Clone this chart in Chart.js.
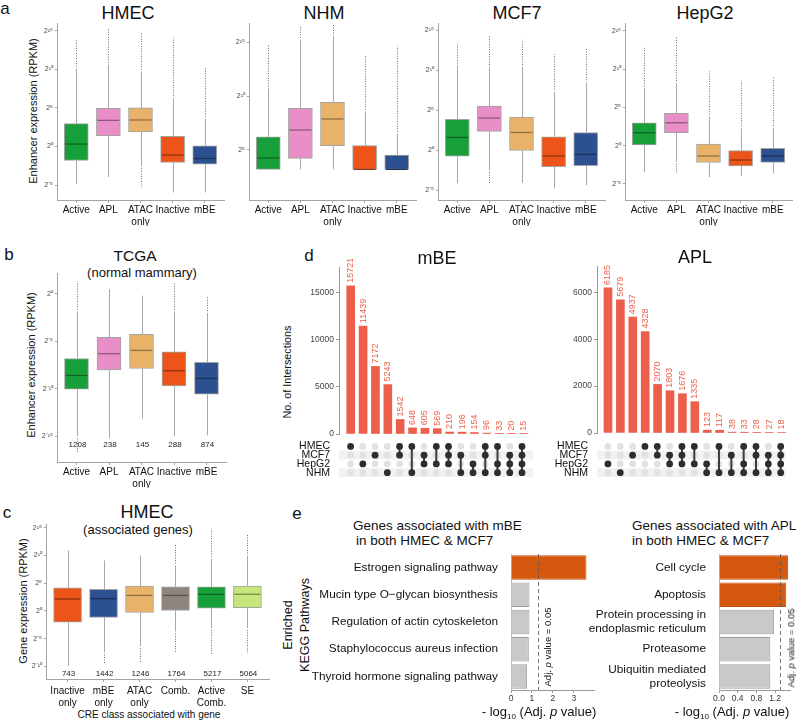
<!DOCTYPE html>
<html>
<head>
<meta charset="utf-8">
<script src="https://cdn.jsdelivr.net/npm/chart.js@4.4.1/dist/chart.umd.min.js"></script>
<style>
  body { margin: 0; background: #fff; }
  #fig { position: relative; width: 796px; height: 721px; overflow: hidden;
         font-family: 'Liberation Sans', Arial, Helvetica, sans-serif; color: #111; }
  #fig canvas { position: absolute; }
  .t { position: absolute; white-space: nowrap; line-height: 1; transform: translate(-50%, -50%); }
  .t sub { font-size: 8px; vertical-align: -3px; line-height: 0; }
</style>
</head>
<body>
<div id="fig"></div>
<script>
/* ── data ─────────────────────────────────────────────── */
const enhCats = ['Active', 'APL', ['ATAC', 'only'], 'Inactive', 'mBE'];
const enhTicks = [-5, 0, 5, 10, 15];
const nhmTicks = [5, 10, 15];

// log2 RPKM: [lower whisker, Q1, median, Q3, upper whisker]; outliers: [min, max]
const hmecStats = [[-4.84, -1.82, 0.31, 2.95, 10.1], [-3.97, 1.39, 3.38, 4.94, 10.6], [-2.6, 1.87, 3.43, 4.99, 9.7], [-5.97, -2.08, -1.12, 1.3, 6.3], [-5.97, -2.29, -1.56, 0.09, 3.6]];
const hmecOut = [[null, 13.9], [null, 15.2], [-5.2, 14.8], [null, 14.1], [null, 10.2]];
const nhmStats = [[3.21, 3.21, 4.26, 6.23, 10.7], [3.21, 4.23, 6.85, 8.86, 15.2], [3.21, 5.4, 7.87, 9.41, 15.6], [3.21, 3.21, 3.21, 5.4, 8.55], [3.21, 3.21, 3.21, 4.54, 6.5]];
const nhmOut = [[null, 14.7], [null, 16.5], [null, 16.7], [null, 13.8], [null, 14.6]];
const mcf7Stats = [[-4.17, -0.75, 1.58, 3.83, 10.6], [-2.5, 2.33, 4.0, 5.5, 10.4], [-4.1, -0.04, 2.2, 4.13, 10.4], [-4.8, -2.08, -0.75, 1.67, 7.3], [-4.4, -1.96, -0.54, 2.2, 8.5]];
const mcf7Out = [[null, 13.4], [-4.25, 14.4], [null, 13.8], [null, 12.0], [null, 12.8]];
const hepg2Stats = [[-3.5, 0.09, 1.7, 3.0, 7.5], [-2.1, 1.7, 3.0, 4.24, 8.2], [-4.1, -2.2, -1.35, 0.22, 3.8], [-3.96, -2.65, -1.87, -0.65, 2.27], [-3.6, -2.2, -1.35, -0.34, 2.3]];
const hepg2Out = [[null, 12.9], [-3.6, 14.3], [null, 9.7], [null, 8.5], [null, 9.1]];

const tcgaTicks = [-15, -10, -5, 0];
const tcgaStats = [[-15.0, -10.03, -8.59, -6.8, -1.87], [-15.2, -8.0, -6.3, -4.57, 0.5], [-13.1, -7.85, -5.95, -4.26, -0.18], [-15.0, -9.7, -8.1, -6.1, -1.87], [-14.9, -10.56, -8.9, -7.2, -2.0]];
const tcgaOut = [[-16.8, 1.27], [null, null], [-13.3, null], [null, 1.2], [null, -0.3]];
const tcgaN = [1208, 238, 145, 288, 874];

const geneCats = [['Inactive', 'only'], ['mBE', 'only'], ['ATAC', 'only'], 'Comb.', ['Active', 'Comb.'], 'SE'];
const geneTicks = [-10, -5, 0, 5, 10, 15];
const geneStats = [[-9.9, -2.02, 2.14, 4.18, 10.9], [-7.5, -1.18, 2.2, 3.88, 9.1], [-6.4, -0.29, 2.8, 4.46, 10.0], [-3.7, 0.07, 2.8, 4.35, 8.2], [-3.1, 0.48, 2.98, 4.35, 9.4], [-3.1, 0.6, 3.0, 4.5, 10.0]];
const geneOut = [[null, null], [-9.4, null], [-9.4, null], [-7.6, 11.9], [-7.9, 14.8], [-7.6, 13.9]];
const geneN = [743, 1442, 1246, 1764, 5217, 5064];

const cellLines = ['HMEC', 'MCF7', 'HepG2', 'NHM'];
const mbeCounts = [15721, 11439, 7172, 5243, 1542, 648, 605, 569, 210, 196, 154, 96, 33, 20, 15];
const mbeSets = [['HMEC'], ['HepG2'], ['MCF7'], ['NHM'], ['HMEC', 'MCF7'], ['HMEC', 'NHM'], ['MCF7', 'HepG2'], ['HMEC', 'HepG2'],
  ['HMEC', 'MCF7', 'HepG2'], ['MCF7', 'NHM'], ['HepG2', 'NHM'], ['HMEC', 'MCF7', 'NHM'], ['HMEC', 'HepG2', 'NHM'], ['MCF7', 'HepG2', 'NHM'], ['HMEC', 'MCF7', 'HepG2', 'NHM']];
const mbeTicks = [0, 5000, 10000, 15000];
const aplCounts = [6185, 5679, 4937, 4328, 2070, 1803, 1676, 1335, 123, 117, 38, 33, 28, 27, 18];
const aplSets = [['HepG2'], ['NHM'], ['MCF7'], ['HMEC'], ['HMEC', 'MCF7'], ['MCF7', 'HepG2'], ['HMEC', 'MCF7', 'HepG2'], ['HMEC', 'HepG2'],
  ['HepG2', 'NHM'], ['HMEC', 'NHM'], ['MCF7', 'NHM'], ['HMEC', 'HepG2', 'NHM'], ['HMEC', 'MCF7', 'NHM'], ['MCF7', 'HepG2', 'NHM'], ['HMEC', 'MCF7', 'HepG2', 'NHM']];
const aplTicks = [0, 2000, 4000, 6000];

const keggMbeLabels = ['Estrogen signaling pathway', 'Mucin type O\u2212glycan biosynthesis', 'Regulation of actin cytoskeleton', 'Staphylococcus aureus infection', 'Thyroid hormone signaling pathway'];
const keggMbeVals = [3.6, 0.88, 0.88, 0.85, 0.77];
const keggMbeTicks = [0, 1, 2, 3];
const keggAplLabels = ['Cell cycle', 'Apoptosis', ['Protein processing in', 'endoplasmic reticulum'], 'Proteasome', ['Ubiquitin mediated', 'proteolysis']];
const keggAplVals = [1.48, 1.44, 1.18, 1.10, 1.10];
const keggAplTicks = [0, 0.4, 0.8, 1.2];
const pCutoff = 1.301; // -log10(0.05)

/* ── styles ───────────────────────────────────────────── */
const enhColors = ['#17a03a', '#e98ec6', '#e8b369', '#ec5419', '#2d5190'];
const geneColors = ['#ec5419', '#2d5190', '#e8b369', '#8f857f', '#17a03a', '#c6e57b'];
const upsetRed = '#ec5f4b';

Chart.defaults.font.family = "'Liberation Sans', Arial, Helvetica, sans-serif";

const fig = document.getElementById('fig');

function txt(html, x, y, size, opt = {}) {
  const d = document.createElement('div');
  d.className = 't';
  d.innerHTML = html;
  d.style.left = x + 'px';
  d.style.top = y + 'px';
  d.style.fontSize = size + 'px';
  if (opt.rot) d.style.transform = 'translate(-50%,-50%) rotate(' + opt.rot + 'deg)';
  if (opt.left) d.style.transform = 'translate(0,-50%)';
  fig.appendChild(d);
}

// box = chart area (l,t,r,b) + room around it (pl,pr,pt,pb)
function canvasAt(box) {
  const c = document.createElement('canvas');
  const w = Math.round(box.r - box.l + box.pl + box.pr);
  const h = Math.round(box.b - box.t + box.pt + box.pb);
  c.width = w; c.height = h;
  c.style.width = w + 'px'; c.style.height = h + 'px';
  c.style.left = (box.l - box.pl) + 'px';
  c.style.top = (box.t - box.pt) + 'px';
  fig.appendChild(c);
  return c;
}
const fixW = w => s => { s.width = w; s.paddingTop = s.paddingBottom = s.paddingLeft = s.paddingRight = 0; };
const fixH = h => s => { s.height = h; s.paddingTop = s.paddingBottom = s.paddingLeft = s.paddingRight = 0; };
const setTicks = vals => s => { s.ticks = vals.map(v => ({ value: v })); };

const SUP = { '-': '\u207B', '0': '\u2070', '1': '\u00B9', '2': '\u00B2', '3': '\u00B3', '4': '\u2074', '5': '\u2075', '6': '\u2076', '7': '\u2077', '8': '\u2078', '9': '\u2079' };
const pow2 = v => '2' + String(v).split('').map(c => SUP[c]).join('');

function shade(hex, f) {
  const n = parseInt(hex.slice(1), 16);
  const r = Math.round(((n >> 16) & 255) * f), g = Math.round(((n >> 8) & 255) * f), b = Math.round((n & 255) * f);
  return 'rgb(' + r + ',' + g + ',' + b + ')';
}
function seg(ctx, x1, y1, x2, y2) { ctx.beginPath(); ctx.moveTo(x1, y1); ctx.lineTo(x2, y2); ctx.stroke(); }

/* ── box plot pieces (whiskers, outliers, medians, n) ── */
const boxWhisk = {
  id: 'boxWhisk',
  beforeDatasetsDraw(chart, args, o) {
    const { ctx, scales: { x, y } } = chart;
    ctx.save();
    ctx.lineWidth = 1;
    o.stats.forEach((s, i) => {
      const px = Math.round(x.getPixelForValue(i + 1)) + 0.5;
      ctx.strokeStyle = '#a8a8a8';
      ctx.setLineDash([]);
      seg(ctx, px, y.getPixelForValue(s[0]), px, y.getPixelForValue(s[1]));
      seg(ctx, px, y.getPixelForValue(s[3]), px, y.getPixelForValue(s[4]));
      const [lo, hi] = o.outs[i];
      ctx.strokeStyle = '#6a6a6a';
      ctx.setLineDash([1, 1.5]);
      if (hi != null) seg(ctx, px, y.getPixelForValue(s[4]) - 2, px, y.getPixelForValue(hi));
      if (lo != null) seg(ctx, px, y.getPixelForValue(s[0]) + 2, px, y.getPixelForValue(lo));
    });
    ctx.restore();
  },
  afterDatasetsDraw(chart, args, o) {
    const { ctx, chartArea, scales: { y } } = chart;
    const meta = chart.getDatasetMeta(0);
    ctx.save();
    ctx.lineWidth = 1.3;
    o.stats.forEach((s, i) => {
      const bar = meta.data[i];
      const py = y.getPixelForValue(s[2]);
      ctx.strokeStyle = shade(o.colors[i], 0.62);
      seg(ctx, bar.x - bar.width / 2 + 1, py, bar.x + bar.width / 2 - 1, py);
    });
    if (o.counts) {
      ctx.fillStyle = '#222';
      ctx.font = '8px ' + Chart.defaults.font.family;
      ctx.textAlign = 'center';
      ctx.textBaseline = 'middle';
      o.counts.forEach((n, i) => ctx.fillText(String(n), meta.data[i].x + 1, chartArea.bottom - o.countY));
    }
    ctx.restore();
  }
};

function boxPlot(box, cats, stats, outs, colors, yMin, yMax, yTicks, extra = {}) {
  return new Chart(canvasAt(box), {
    type: 'bar',
    data: {
      datasets: [{
        data: stats.map((s, i) => ({ x: i + 1, y: [s[1], s[3]] })),
        backgroundColor: colors,
        borderColor: '#a3a3a3',
        borderWidth: 1,
        borderSkipped: false,
        barThickness: extra.bw || 24
      }]
    },
    options: {
      responsive: false, animation: false, devicePixelRatio: 1,
      layout: { padding: { top: box.pt, right: box.pr, left: 0, bottom: 0 } },
      plugins: {
        legend: { display: false }, tooltip: { enabled: false },
        boxWhisk: { stats, outs, colors, counts: extra.counts, countY: extra.countY }
      },
      scales: {
        x: {
          type: 'linear', bounds: 'data', offset: false, min: 0.4, max: cats.length + 0.6,
          afterFit: fixH(box.pb), afterBuildTicks: setTicks(cats.map((_, i) => i + 1)),
          ticks: { autoSkip: false, maxRotation: 0, padding: extra.xPad || 1, color: '#111', font: { size: 10 },
                   callback: v => cats[v - 1] },
          grid: { display: true, offset: false, drawOnChartArea: false, tickLength: 3, color: '#a5a5a5' },
          border: { color: '#a5a5a5' }
        },
        y: {
          bounds: 'data', min: yMin, max: yMax,
          afterFit: fixW(box.pl), afterBuildTicks: setTicks(yTicks),
          ticks: { autoSkip: false, padding: 2, color: '#444', font: { size: 7 }, callback: v => pow2(v) },
          grid: { display: true, drawOnChartArea: false, tickLength: 2, color: '#a5a5a5' },
          border: { color: '#a5a5a5' }
        }
      }
    },
    plugins: [boxWhisk]
  });
}

/* ── UpSet plot pieces ───────────────────────────────── */
const barLabels = {
  id: 'barLabels',
  afterDatasetsDraw(chart) {
    const { ctx } = chart;
    const meta = chart.getDatasetMeta(0);
    ctx.save();
    ctx.fillStyle = upsetRed;
    ctx.font = '9px ' + Chart.defaults.font.family;
    ctx.textAlign = 'left';
    ctx.textBaseline = 'middle';
    meta.data.forEach((bar, i) => {
      ctx.save();
      ctx.translate(bar.x, bar.y - 3);
      ctx.rotate(-Math.PI / 2);
      ctx.fillText(String(chart.data.datasets[0].data[i].y), 0, 0);
      ctx.restore();
    });
    ctx.restore();
  }
};

function upsetBars(box, counts, yMax, yTicks, xMin, xMax) {
  return new Chart(canvasAt(box), {
    type: 'bar',
    data: { datasets: [{ data: counts.map((v, i) => ({ x: i, y: v })), backgroundColor: upsetRed, barThickness: 8 }] },
    options: {
      responsive: false, animation: false, devicePixelRatio: 1,
      layout: { padding: { top: box.pt, right: box.pr, left: 0, bottom: box.pb } },
      plugins: { legend: { display: false }, tooltip: { enabled: false } },
      scales: {
        x: { type: 'linear', display: false, bounds: 'data', offset: false, min: xMin, max: xMax },
        y: {
          bounds: 'data', min: 0, max: yMax,
          afterFit: fixW(box.pl), afterBuildTicks: setTicks(yTicks),
          ticks: { autoSkip: false, padding: 2, color: '#444', font: { size: 8.5 }, callback: v => String(v) },
          grid: { display: true, drawOnChartArea: false, tickLength: 3, color: '#999' },
          border: { color: '#999' }
        }
      }
    },
    plugins: [barLabels]
  });
}

const rowBands = {
  id: 'rowBands',
  beforeDatasetsDraw(chart) {
    const { ctx, chartArea: a, scales: { y } } = chart;
    ctx.save();
    ctx.fillStyle = '#f1f1f1';
    [1, 3].forEach(r => {
      const y0 = y.getPixelForValue(r - 0.5), y1 = y.getPixelForValue(r + 0.5);
      ctx.fillRect(a.left, y0, a.right - a.left, y1 - y0);
    });
    ctx.restore();
  }
};

function upsetMatrix(box, sets, xMin, xMax) {
  const on = [], off = [], links = [];
  sets.forEach((s, i) => {
    cellLines.forEach((name, r) => (s.includes(name) ? on : off).push({ x: i, y: r }));
    if (s.length > 1) {
      const rows = s.map(name => cellLines.indexOf(name));
      links.push({ x: i, y: [Math.min(...rows), Math.max(...rows)] });
    }
  });
  return new Chart(canvasAt(box), {
    type: 'bar',
    data: {
      datasets: [
        { type: 'scatter', data: on, pointRadius: 3.4, backgroundColor: '#2e2e2e', borderWidth: 0, order: 0 },
        { type: 'bar', data: links, backgroundColor: '#3a3a3a', barThickness: 1.3, order: 1 },
        { type: 'scatter', data: off, pointRadius: 3.4, backgroundColor: '#e2e2e2', borderWidth: 0, order: 2 }
      ]
    },
    options: {
      responsive: false, animation: false, devicePixelRatio: 1,
      layout: { padding: { top: box.pt, right: box.pr, left: 0, bottom: box.pb } },
      plugins: { legend: { display: false }, tooltip: { enabled: false } },
      scales: {
        x: { type: 'linear', display: false, bounds: 'data', offset: false, min: xMin, max: xMax },
        y: {
          type: 'linear', bounds: 'data', min: -0.5, max: 3.5, reverse: true,
          afterFit: fixW(box.pl), afterBuildTicks: setTicks([0, 1, 2, 3]),
          ticks: { autoSkip: false, padding: 1, color: '#111', font: { size: 10.5 }, callback: v => cellLines[v] },
          grid: { display: false }, border: { display: false }
        }
      }
    },
    plugins: [rowBands]
  });
}

/* ── KEGG bars ───────────────────────────────────────── */
const cutLine = {
  id: 'cutLine',
  afterDatasetsDraw(chart) {
    const { ctx, chartArea: a, scales: { x } } = chart;
    const px = Math.round(x.getPixelForValue(pCutoff)) + 0.5;
    ctx.save();
    ctx.strokeStyle = '#555';
    ctx.lineWidth = 0.8;
    ctx.setLineDash([4, 3]);
    seg(ctx, px, a.top, px, a.bottom);
    ctx.restore();
  }
};

function keggChart(box, labels, vals, xMax, xTicks, fmt) {
  const sig = vals.map(v => v > pCutoff);
  return new Chart(canvasAt(box), {
    type: 'bar',
    data: {
      labels,
      datasets: [{
        data: vals,
        backgroundColor: sig.map(s => s ? '#d5580f' : '#c9c9c9'),
        borderColor: sig.map(s => s ? '#c44e0c' : '#9e9e9e'),
        borderWidth: 1,
        barPercentage: 0.9, categoryPercentage: 1
      }]
    },
    options: {
      indexAxis: 'y',
      responsive: false, animation: false, devicePixelRatio: 1,
      layout: { padding: { top: box.pt, right: box.pr, left: 0, bottom: 0 } },
      plugins: { legend: { display: false }, tooltip: { enabled: false } },
      scales: {
        x: {
          bounds: 'data', min: 0, max: xMax,
          afterFit: fixH(box.pb), afterBuildTicks: setTicks(xTicks),
          ticks: { autoSkip: false, padding: 1, color: '#333', font: { size: 8.5 }, callback: fmt },
          grid: { display: true, drawOnChartArea: false, tickLength: 3, color: '#999' },
          border: { color: '#999' }
        },
        y: {
          afterFit: fixW(box.pl),
          ticks: { autoSkip: false, padding: 5, color: '#111', font: { size: 11.8, lineHeight: 1.2 } },
          grid: { display: false }, border: { color: '#bbb' }
        }
      }
    },
    plugins: [cutLine]
  });
}

/* ── panel a ─────────────────────────────────────────── */
txt('a', 5, 8, 17);
txt('HMEC', 128, 13, 18);
txt('NHM', 324, 13, 18);
txt('MCF7', 517, 13, 18);
txt('HepG2', 705, 13, 18);
txt('Enhancer expression (RPKM)', 33, 111, 11, { rot: -90 });

const padA = { pl: 22, pr: 3, pt: 6, pb: 26 };
boxPlot({ l: 57, t: 23, r: 224, b: 200, ...padA }, enhCats, hmecStats, hmecOut, enhColors, -6.94, 16.0, enhTicks);
boxPlot({ l: 249, t: 23, r: 416, b: 200, ...padA }, enhCats, nhmStats, nhmOut, enhColors, 0.37, 16.76, nhmTicks);
boxPlot({ l: 438, t: 23, r: 605, b: 200, ...padA }, enhCats, mcf7Stats, mcf7Out, enhColors, -6.25, 15.9, enhTicks);
boxPlot({ l: 625, t: 23, r: 792, b: 200, ...padA }, enhCats, hepg2Stats, hepg2Out, enhColors, -7.1, 16.04, enhTicks);

/* ── panel b ─────────────────────────────────────────── */
txt('b', 9, 254, 17);
txt('TCGA', 135, 256, 15.5);
txt('(normal mammary)', 142, 272, 13);
txt('Enhancer expression (RPKM)', 31, 365, 11, { rot: -90 });
boxPlot({ l: 57, t: 273, r: 226, b: 461.7, pl: 22, pr: 3, pt: 6, pb: 26 }, enhCats, tcgaStats, tcgaOut, enhColors,
  -17.7, 2.2, tcgaTicks, { counts: tcgaN, countY: 17 });

/* ── panel c ─────────────────────────────────────────── */
txt('c', 7, 512, 17);
txt('HMEC', 147, 512, 18);
txt('(associated genes)', 138, 529, 13);
txt('Gene expression (RPKM)', 23, 601, 11, { rot: -90 });
txt('CRE class associated with gene', 149, 715, 10);
boxPlot({ l: 45.7, t: 524, r: 269, b: 679.3, pl: 22, pr: 3, pt: 5, pb: 30 }, geneCats, geneStats, geneOut, geneColors,
  -12.27, 15.67, geneTicks, { counts: geneN, countY: 5, bw: 28, xPad: 3 });

/* ── panel d ─────────────────────────────────────────── */
txt('d', 309, 255, 17);
txt('mBE', 437, 258, 18);
txt('APL', 695, 257, 18);
txt('No. of Intersections', 287, 372, 10.8, { rot: -90 });

upsetBars({ l: 339.3, t: 266.7, r: 535.2, b: 433.3, pl: 30, pr: 2, pt: 8, pb: 5 }, mbeCounts, 17720, mbeTicks, -0.947, 14.9);
upsetMatrix({ l: 339.3, t: 437.9, r: 535.2, b: 481.1, pl: 48, pr: 2, pt: 0, pb: 0 }, mbeSets, -0.947, 14.9);
upsetBars({ l: 596.7, t: 266, r: 787.1, b: 433.3, pl: 30, pr: 3, pt: 8, pb: 5 }, aplCounts, 7119, aplTicks, -0.885, 14.43);
upsetMatrix({ l: 596.7, t: 437.9, r: 787.1, b: 481.1, pl: 48, pr: 3, pt: 0, pb: 0 }, aplSets, -0.885, 14.43);

/* ── panel e ─────────────────────────────────────────── */
txt('e', 297, 513, 17);
txt('Enriched', 288, 625, 12.5, { rot: -90 });
txt('KEGG Pathways', 305, 625, 12.5, { rot: -90 });
txt('Genes associated with mBE', 353, 526, 13.5, { left: true });
txt('in both HMEC &amp; MCF7', 356, 541, 13.5, { left: true });
txt('Genes associated with APL', 632, 526, 13.5, { left: true });
txt('in both HMEC &amp; MCF7', 632, 541, 13.5, { left: true });

keggChart({ l: 510.7, t: 554, r: 593.3, b: 689.5, pl: 200, pr: 3, pt: 2, pb: 14 }, keggMbeLabels, keggMbeVals, 3.96, keggMbeTicks, v => String(v));
keggChart({ l: 719.3, t: 554, r: 790.3, b: 689.5, pl: 134, pr: 5, pt: 2, pb: 14 }, keggAplLabels, keggAplVals, 1.52, keggAplTicks, v => v.toFixed(1));

txt('Adj. <i>p</i> value = 0.05', 548, 647, 9.5, { rot: -90 });
txt('Adj. <i>p</i> value = 0.05', 790.5, 648, 9.5, { rot: -90 });
txt('- log<sub>10</sub> (Adj. <i>p</i> value)', 539, 711, 13);
txt('- log<sub>10</sub> (Adj. <i>p</i> value)', 732, 711, 13);
</script>
</body>
</html>
